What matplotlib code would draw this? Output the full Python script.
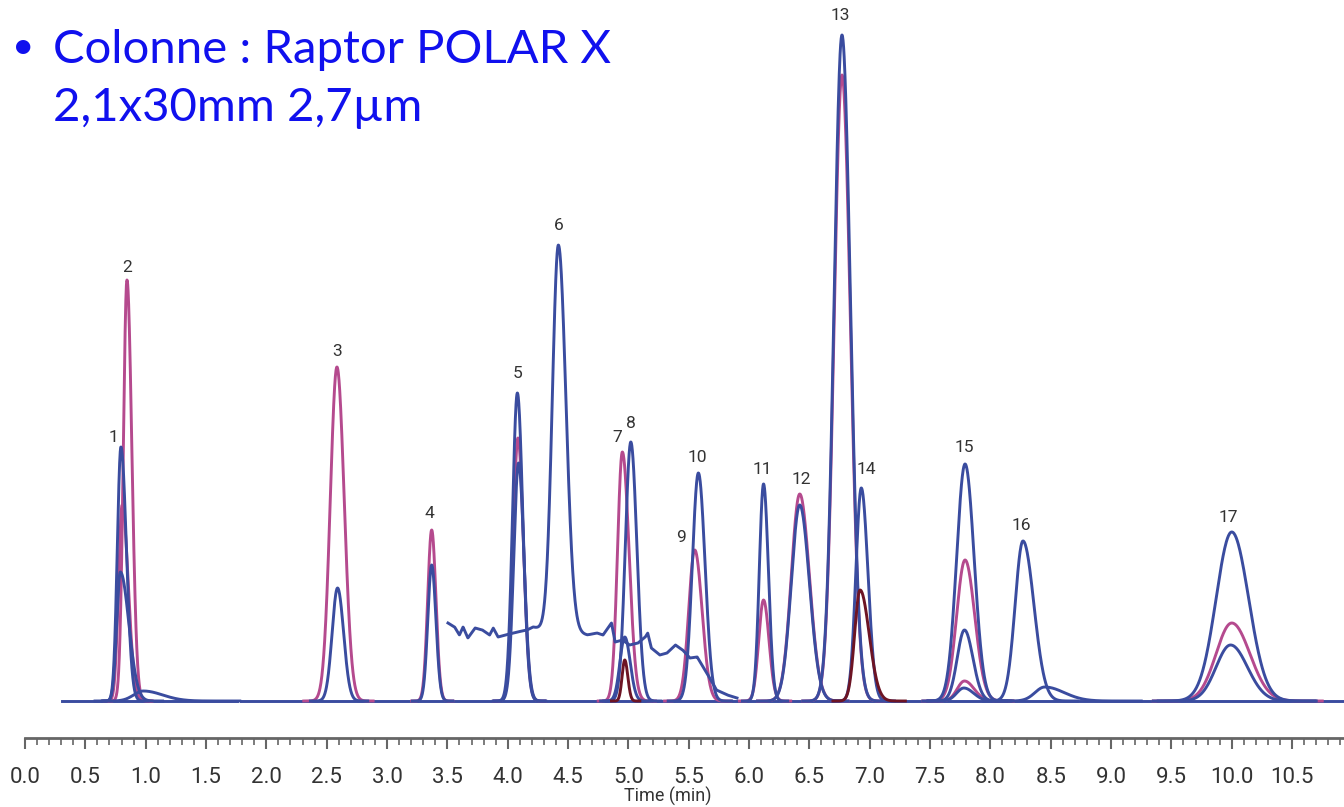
import numpy as np
import matplotlib.pyplot as plt
from matplotlib.ticker import MultipleLocator
from matplotlib import font_manager

BLUE = '#3a4c9f'
MAGENTA = '#b54a8e'
DARKRED = '#6d1424'

# peak tables: retention time (min), height, left / right half-width (min)
blue_rt = [0.795, 0.79, 0.98, 2.59, 3.37, 4.08, 4.09, 4.97, 5.02, 5.58, 6.12, 6.42,
           6.77, 6.93, 7.79, 7.785, 7.78, 8.27, 8.45, 10.0, 9.99]
blue_h = [254, 129, 10, 113, 136, 308, 238, 64, 259, 228, 217, 196,
          666, 213, 237, 71, 13, 160, 14, 169, 56]
blue_sl = [0.030, 0.030, 0.08, 0.045, 0.032, 0.040, 0.040, 0.040, 0.045, 0.050, 0.035, 0.070,
           0.065, 0.045, 0.070, 0.060, 0.060, 0.065, 0.08, 0.130, 0.120]
blue_sr = [0.045, 0.070, 0.16, 0.050, 0.035, 0.045, 0.045, 0.045, 0.050, 0.055, 0.040, 0.080,
           0.070, 0.055, 0.075, 0.070, 0.080, 0.090, 0.16, 0.140, 0.140]

magenta_rt = [0.805, 0.845, 2.585, 3.37, 4.085, 4.95, 5.55, 6.12, 6.42, 6.77, 7.79, 7.785, 10.0]
magenta_h = [196, 421, 334, 171, 263, 249, 151, 101, 207, 626, 141, 20, 78]
magenta_sl = [0.030, 0.030, 0.055, 0.033, 0.040, 0.040, 0.050, 0.040, 0.070, 0.065, 0.070, 0.060, 0.130]
magenta_sr = [0.050, 0.040, 0.060, 0.035, 0.045, 0.055, 0.060, 0.045, 0.080, 0.070, 0.080, 0.080, 0.150]

darkred_rt = [4.97, 6.92]
darkred_h = [41, 111]
darkred_sl = [0.022, 0.045]
darkred_sr = [0.025, 0.075]

# elevated, noisy trace carrying peak 6
noisy_t = [3.505, 3.56, 3.60, 3.63, 3.67, 3.73, 3.79, 3.85, 3.88, 3.92, 3.98, 4.08, 4.16, 4.21,
           4.28, 4.55, 4.66, 4.74, 4.79, 4.83, 4.86, 4.89, 4.95, 5.01, 5.08, 5.14, 5.16, 5.19,
           5.26, 5.32, 5.39, 5.45, 5.51, 5.57, 5.65, 5.73, 5.82, 5.90]
noisy_h = [78, 74, 66, 74, 63, 73, 71, 66, 73, 64, 66, 69, 71, 74,
           72, 68, 66, 68, 66, 73, 78, 59, 61, 56, 58, 64, 68, 53,
           46, 48, 56, 51, 43, 44, 28, 11, 6, 3]
peak6_rt, peak6_h, peak6_sl, peak6_sr = 4.42, 386, 0.05, 0.062

baseline_segments = [(0.31, 1.76), (1.79, 10.93)]

peak_labels = ['1', '2', '3', '4', '5', '6', '7', '8', '9', '10', '11', '12', '13', '14', '15', '16', '17']
label_t = [0.73, 0.845, 2.585, 3.35, 4.08, 4.42, 4.91, 5.02, 5.44, 5.57, 6.11, 6.43, 6.76, 6.97, 7.78, 8.26, 9.975]
label_h = [264, 433, 349, 187, 327, 475, 263, 278, 164, 244, 232, 222, 686, 231, 253, 175, 184]


def peak(t, rt, h, sl, sr):
    s = np.where(t < rt, sl, sr)
    return h * np.exp(-0.5 * ((t - rt) / s) ** 2)


names = {f.name for f in font_manager.fontManager.ttflist}
narrow = 'Liberation Sans Narrow' if 'Liberation Sans Narrow' in names else 'Roboto'

fig = plt.figure(figsize=(13.44, 8.07), dpi=100)
ax = fig.add_axes([25 / 1344, 69 / 807, 1 - 25 / 1344, 738 / 807])

LW = 2.1
for a, b in baseline_segments:
    ax.plot([a, b], [0, 0], color=BLUE, lw=LW, zorder=2)

for rts, hs, sls, srs, col, z in [(magenta_rt, magenta_h, magenta_sl, magenta_sr, MAGENTA, 3),
                                  (blue_rt, blue_h, blue_sl, blue_sr, BLUE, 4),
                                  (darkred_rt, darkred_h, darkred_sl, darkred_sr, DARKRED, 5)]:
    for rt, h, sl, sr in zip(rts, hs, sls, srs):
        t = np.linspace(rt - 5 * sl, rt + 5 * sr, 300)
        ax.plot(t, peak(t, rt, h, sl, sr), color=col, lw=LW, zorder=z)

t = np.linspace(noisy_t[0], noisy_t[-1], 1500)
y = np.interp(t, noisy_t, noisy_h) + peak(t, peak6_rt, peak6_h, peak6_sl, peak6_sr)
ax.plot(t, y, color=BLUE, lw=LW, zorder=4)

for lab, lt, lh in zip(peak_labels, label_t, label_h):
    ax.text(lt, lh, lab, ha='center', va='center', fontsize=12.5, color='#333333', family=narrow)

ax.set_xlim(0, 10.93)
ax.set_ylim(-37, 701)
for side in ['left', 'right', 'top']:
    ax.spines[side].set_visible(False)
ax.spines['bottom'].set_color('#666666')
ax.spines['bottom'].set_linewidth(2)
ax.set_yticks([])
ax.xaxis.set_major_locator(MultipleLocator(0.5))
ax.xaxis.set_minor_locator(MultipleLocator(0.1))
ax.xaxis.set_major_formatter(lambda v, p: f'{v:.1f}')
ax.tick_params(axis='x', which='major', length=8, width=1.5, color='#666666', pad=13,
               labelsize=16, labelcolor='#333333')
ax.tick_params(axis='x', which='minor', length=5, width=1.2, color='#666666')
for lbl in ax.get_xticklabels():
    lbl.set_family(narrow)
ax.set_xlabel('Time (min)', fontsize=13, color='#333333', family=narrow)
ax.xaxis.set_label_coords((668 - 25) / (1344 - 25), -49 / 738)
ax.patch.set_alpha(0)

fig.text(12 / 1344, 1 - 58 / 807, '\u2022', fontsize=28, color='#1010ee', family='Lato', va='baseline')
fig.text(53 / 1344, 1 - 63 / 807, 'Colonne : Raptor POLAR X', fontsize=34, color='#1010ee',
         family='Lato', va='baseline')
fig.text(53 / 1344, 1 - 121 / 807, '2,1x30mm 2,7\u00b5m', fontsize=34, color='#1010ee',
         family='Lato', va='baseline')

fig.savefig('out.png', dpi=100)
